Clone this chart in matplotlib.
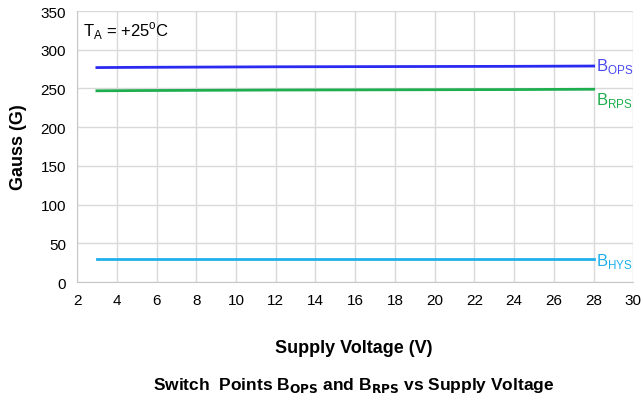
import matplotlib.pyplot as plt
import numpy as np

plt.rcParams['font.family'] = ['Liberation Sans', 'DejaVu Sans']

vcc = np.array([3, 5, 8, 12, 16, 20, 24, 28])
bops = np.array([277, 277.3, 277.6, 278, 278.2, 278.4, 278.6, 279])
brps = np.array([247, 247.3, 247.6, 248, 248.2, 248.4, 248.6, 249])
bhys = np.array([30, 30, 30, 30, 30, 30, 30, 30])

fig = plt.figure(figsize=(6.44, 4.02), dpi=100)
ax = fig.add_axes([0.1196, 0.296, 0.864, 0.674])

ax.plot(vcc, bops, color='#2a2af0', lw=2)
ax.plot(vcc, brps, color='#1fae4f', lw=2)
ax.plot(vcc, bhys, color='#1fb0ec', lw=2)

ax.text(28.1, bops[-1] + 1, r'B$_{\mathregular{OPS}}$', color='#4a4af0', fontsize=12, va='center')
ax.text(28.1, brps[-1] - 13, r'B$_{\mathregular{RPS}}$', color='#1fae4f', fontsize=12, va='center')
ax.text(28.1, bhys[-1] - 2, r'B$_{\mathregular{HYS}}$', color='#1fb0ec', fontsize=12, va='center')
ax.text(2.3, 340, r'T$_{\mathregular{A}}$ = +25$^{\mathregular{o}}$C', fontsize=12, va='top')

ax.set_xlim(2, 30)
ax.set_ylim(0, 350)
ax.set_xticks(np.arange(2, 31, 2))
ax.set_yticks(np.arange(0, 351, 50))
ax.grid(True, color='#d9d9d9', lw=1)
ax.set_axisbelow(True)
for s in ['top', 'right']:
    ax.spines[s].set_visible(False)
for s in ['left', 'bottom']:
    ax.spines[s].set_color('#c8c8c8')
ax.tick_params(length=0, labelsize=11, pad=8)

ax.set_ylabel('Gauss (G)', fontsize=13, fontweight='bold', labelpad=10)
fig.text(0.55, 0.134, 'Supply Voltage (V)', ha='center', va='center', fontsize=13, fontweight='bold')
fig.text(0.55, 0.04, r'Switch  Points B$_{\mathbf{OPS}}$ and B$_{\mathbf{RPS}}$ vs Supply Voltage',
         ha='center', va='center', fontsize=12.5, fontweight='bold')

fig.savefig('out.png', dpi=100)
